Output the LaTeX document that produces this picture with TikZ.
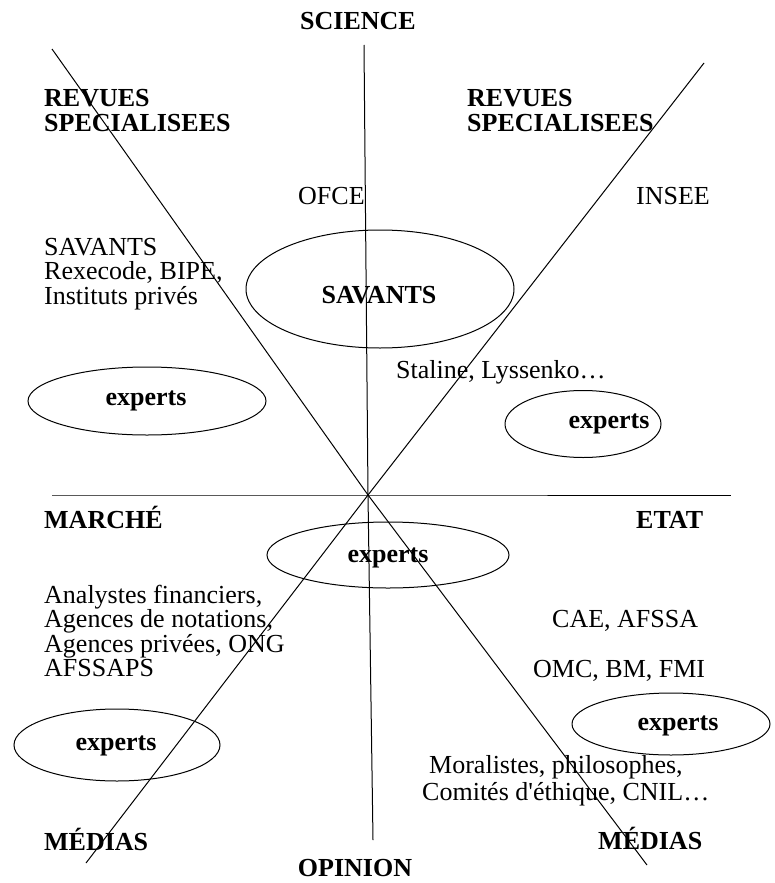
\documentclass[tikz,border=0pt]{standalone}
\usepackage{fontspec}
\setmainfont{Liberation Serif}
\usetikzlibrary{shapes.geometric}
\tikzset{
  txt/.style={inner sep=0pt, anchor=base west, font=\fontsize{26}{25}\selectfont},
  btxt/.style={txt, font=\fontsize{26}{25}\selectfont\bfseries},
  ctxt/.style={btxt, anchor=base},
  oval/.style={ellipse, draw, line width=1pt, inner sep=0pt},
  axis/.style={line width=1pt}
}
\begin{document}
\begin{tikzpicture}[x=1pt,y=-1pt]
\useasboundingbox (0,0) rectangle (774,883);
% line end points
\coordinate (c) at (368,495);
\coordinate (vt) at (364,45);
\coordinate (vb) at (373,840);
\coordinate (hl) at (52,495);
\coordinate (hr) at (731,495);
\coordinate (d1t) at (52,49);
\coordinate (d1b) at (647,865);
\coordinate (d2t) at (704,63);
\coordinate (d2b) at (86,863);
% ellipses
\node[oval, minimum width=268, minimum height=118] (eSav) at (380,289) {};
\node[oval, minimum width=238, minimum height=68] (eL) at (147,401) {};
\node[oval, minimum width=156, minimum height=67] (eR) at (583,424) {};
\node[oval, minimum width=242, minimum height=66] (eC) at (388,555) {};
\node[oval, minimum width=206, minimum height=72] (eBL) at (117,745) {};
\node[oval, minimum width=198, minimum height=62] (eBR) at (671,724) {};
% axes
\draw[axis] (vt) -- (c) -- (vb);
\draw[axis] (hl) -- (c) -- (hr);
\draw[axis] (d1t) -- (c) -- (d1b);
\draw[axis] (d2t) -- (c) -- (d2b);
% texts
\node[ctxt] (science) at (358,30) {SCIENCE};
\node[ctxt] (opinion) at (355,876) {OPINION};
\node[btxt] (revL1) at (44,106) {REVUES};
\node[btxt] (revL2) at (44,131) {SPECIALISEES};
\node[btxt] (revR1) at (467,106) {REVUES};
\node[btxt] (revR2) at (467,131) {SPECIALISEES};
\node[txt] (ofce) at (298,204) {OFCE};
\node[txt] (insee) at (636,204) {INSEE};
\node[txt] (sav1) at (44,255) {SAVANTS};
\node[txt] (rex) at (44,279) {Rexecode, BIPE,};
\node[txt] (inst) at (44,304) {Instituts privés};
\node[ctxt] (tSav) at (379,303) {SAVANTS};
\node[txt] (staline) at (396,378) {Staline, Lyssenko…};
\node[ctxt] (tL) at (146,405) {experts};
\node[ctxt] (tR) at (609,428) {experts};
\node[btxt] (marche) at (44,528) {MARCHÉ};
\node[btxt] (etat) at (636,528) {ETAT};
\node[ctxt] (tC) at (388,562) {experts};
\node[txt] (ana1) at (44,603) {Analystes financiers,};
\node[txt] (ana2) at (44,627) {Agences de notations,};
\node[txt] (ana3) at (44,652) {Agences privées, ONG};
\node[txt] (ana4) at (44,676) {AFSSAPS};
\node[txt] (cae) at (552,627) {CAE, AFSSA};
\node[txt] (omc) at (533,677) {OMC, BM, FMI};
\node[ctxt] (tBR) at (678,730) {experts};
\node[ctxt] (tBL) at (116,750) {experts};
\node[txt] (mor1) at (429,773) {Moralistes, philosophes,};
\node[txt] (mor2) at (422,800) {Comités d\textquotesingle éthique, CNIL…};
\node[btxt] (medL) at (44,850) {MÉDIAS};
\node[btxt] (medR) at (598,849) {MÉDIAS};
\end{tikzpicture}
\end{document}
